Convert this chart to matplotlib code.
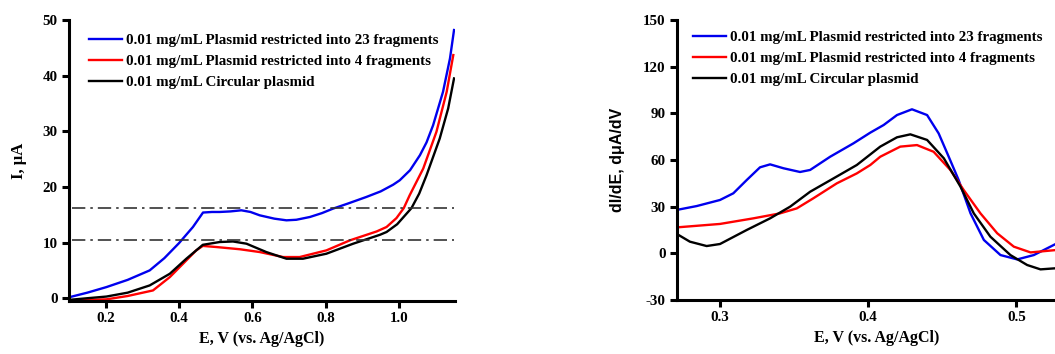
import matplotlib
matplotlib.use('Agg')
import matplotlib.pyplot as plt

plt.rcParams['font.family'] = 'Liberation Serif'
plt.rcParams['font.weight'] = 'bold'
plt.rcParams['axes.unicode_minus'] = False

LABELS = ['0.01 mg/mL Plasmid restricted into 23 fragments',
          '0.01 mg/mL Plasmid restricted into 4 fragments',
          '0.01 mg/mL Circular plasmid']
COLORS = ['#0000ee', '#ff0000', '#000000']

# --- linear sweep current, I (uA) vs E (V)
e_23 = [0.102, 0.15, 0.202, 0.26, 0.32, 0.36, 0.40, 0.438, 0.4655, 0.49, 0.511, 0.54, 0.570, 0.595,
        0.62, 0.66, 0.693, 0.72, 0.757, 0.79, 0.820, 0.86, 0.911, 0.95, 0.984, 1.002, 1.03,
        1.057, 1.075, 1.093, 1.12, 1.139, 1.15]
i_23 = [0.2, 1.0, 2.0, 3.3, 5.0, 7.2, 9.9, 12.8, 15.4, 15.5, 15.5, 15.6, 15.8, 15.5,
        14.9, 14.3, 14.0, 14.1, 14.6, 15.3, 16.1, 17.0, 18.2, 19.2, 20.4, 21.2, 23.0,
        25.7, 28.0, 31.1, 37.1, 43.1, 48.2]
e_4 = [0.10, 0.15, 0.202, 0.26, 0.329, 0.375, 0.411, 0.447, 0.465, 0.502, 0.566, 0.62, 0.684,
       0.729, 0.802, 0.866, 0.939, 0.966, 0.993, 1.013, 1.029, 1.066, 1.102, 1.13, 1.148]
i_4 = [-0.4, -0.3, -0.2, 0.4, 1.4, 3.8, 6.2, 8.6, 9.4, 9.2, 8.8, 8.3, 7.4,
       7.4, 8.6, 10.4, 12.0, 12.8, 14.4, 16.2, 18.5, 23.3, 29.9, 37.1, 43.7]
e_circ = [0.10, 0.15, 0.202, 0.26, 0.32, 0.375, 0.42, 0.465, 0.511, 0.547, 0.584, 0.638, 0.693,
          0.738, 0.802, 0.875, 0.948, 0.966, 0.995, 1.034, 1.055, 1.075, 1.111, 1.134, 1.15]
i_circ = [-0.3, 0.0, 0.3, 1.0, 2.3, 4.4, 7.1, 9.6, 10.1, 10.2, 9.8, 8.3, 7.1,
          7.1, 8.0, 9.8, 11.4, 11.9, 13.3, 16.2, 18.8, 22.1, 28.7, 34.1, 39.5]
LEVELS = [16.2, 10.4]

# --- first derivative, dI/dE vs E (V)
d_e_23 = [0.2708, 0.2843, 0.300, 0.309, 0.318, 0.327, 0.3338, 0.3428, 0.354, 0.3608, 0.3743,
          0.390, 0.4014, 0.4104, 0.4194, 0.4295, 0.4397, 0.4475, 0.4543, 0.461, 0.469, 0.478,
          0.4892, 0.5005, 0.5117, 0.5264]
d_i_23 = [27.9, 30.4, 34.3, 38.6, 47.1, 55.3, 57.2, 54.7, 52.3, 53.6, 62.1,
          70.7, 77.6, 82.5, 88.9, 92.6, 88.9, 77.1, 62.1, 47.1, 25.7, 8.6,
          -1.1, -3.9, -1.1, 6.0]
d_e_4 = [0.271, 0.30, 0.3225, 0.3405, 0.3518, 0.363, 0.3788, 0.3923, 0.4014, 0.4081, 0.4216,
         0.4329, 0.4441, 0.4554, 0.4644, 0.4757, 0.487, 0.4982, 0.5095, 0.5264]
d_i_4 = [16.7, 18.9, 22.5, 25.7, 28.9, 35.4, 45.0, 51.4, 56.8, 62.1, 68.6,
         69.6, 65.3, 53.6, 40.7, 25.7, 12.9, 4.3, 0.6, 2.1]
d_e_circ = [0.271, 0.2797, 0.291, 0.300, 0.318, 0.3338, 0.3473, 0.3608, 0.3766, 0.3923, 0.4081,
            0.4194, 0.4284, 0.4397, 0.451, 0.4622, 0.4712, 0.4824, 0.4959, 0.5072, 0.5162, 0.5264]
d_i_circ = [12.4, 7.5, 4.7, 6.0, 15.0, 22.5, 30.0, 39.6, 48.2, 56.8, 68.6,
            74.6, 76.5, 72.9, 61.1, 42.9, 25.7, 10.7, -1.1, -7.5, -10.3, -9.6]

fig = plt.figure(figsize=(10.55, 3.54), dpi=100)
axL = fig.add_axes([0.0654, 0.1497, 0.366, 0.7938])
axR = fig.add_axes([0.6417, 0.1525, 0.378, 0.791])

LEG = dict(loc='upper left', frameon=False, handlelength=2.2, handletextpad=0.25,
           labelspacing=0.5, borderaxespad=0.3,
           prop={'family': 'Liberation Serif', 'weight': 'bold', 'size': 10.8})

def style(ax):
    for sp in ['top', 'right']:
        ax.spines[sp].set_visible(False)
    for sp in ['left', 'bottom']:
        ax.spines[sp].set_linewidth(2.2)
    ax.tick_params(direction='out', length=5, width=2.2, labelsize=10.8, pad=3)
    for t in ax.get_xticklabels() + ax.get_yticklabels():
        t.set_fontweight('bold')

# left: I vs E
for x, y, c, lab in zip([e_23, e_4, e_circ], [i_23, i_4, i_circ], COLORS, LABELS):
    axL.plot(x, y, color=c, lw=1.7, label=lab, solid_joinstyle='round')
for lv in LEVELS:
    axL.hlines(lv, 0.108, 1.15, color='#333333', lw=1.2, ls=(0, (8, 3, 1.5, 3)))
axL.set_xlim(0.1, 1.153)
axL.set_ylim(-0.5, 50)
axL.set_xticks([0.2, 0.4, 0.6, 0.8, 1.0])
axL.set_yticks([0, 10, 20, 30, 40, 50])
style(axL)
axL.set_ylabel('I, μA', fontsize=12, fontweight='bold', labelpad=11)
axL.set_xlabel('E, V (vs. Ag/AgCl)', fontsize=11.5, fontweight='bold')
axL.legend(bbox_to_anchor=(0.025, 0.99), **LEG)

# right: dI/dE vs E
for x, y, c, lab in zip([d_e_23, d_e_4, d_e_circ], [d_i_23, d_i_4, d_i_circ], COLORS, LABELS):
    axR.plot(x, y, color=c, lw=1.7, label=lab, solid_joinstyle='round')
axR.set_xlim(0.271, 0.54)
axR.set_ylim(-30, 150)
axR.set_xticks([0.3, 0.4, 0.5])
axR.set_yticks([-30, 0, 30, 60, 90, 120, 150])
style(axR)
axR.set_ylabel('dI/dE, dμA/dV', fontsize=11.5, fontweight='bold', family='Liberation Sans',
               labelpad=13)
axR.set_xlabel('E, V (vs. Ag/AgCl)', fontsize=11.5, fontweight='bold')
axR.legend(bbox_to_anchor=(0.015, 1.0), **LEG)

fig.savefig('out.png', dpi=100)
